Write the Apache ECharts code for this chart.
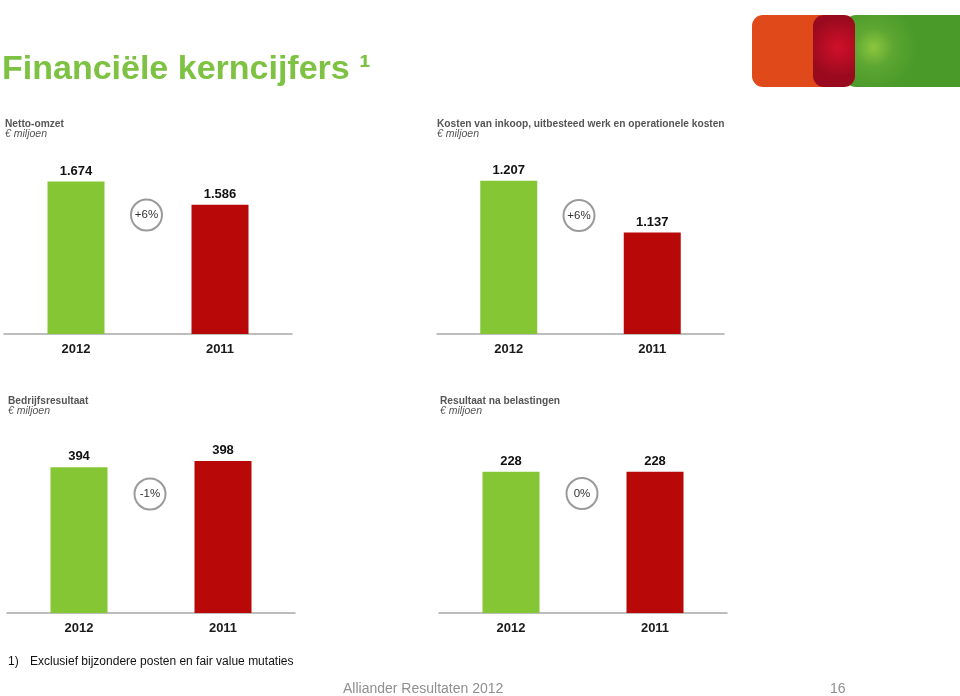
<!DOCTYPE html>
<html>
<head>
<meta charset="utf-8">
<script src="https://cdn.jsdelivr.net/npm/echarts@6/dist/echarts.min.js"></script>
<style>
html,body{margin:0;padding:0;background:#fff;}
#chart{width:960px;height:696px;}
</style>
</head>
<body>
<div id="chart"></div>
<script>
// ---- data ----
const categories = ['2012', '2011'];
const nettoOmzet = [1674, 1586];
const kosten = [1207, 1137];
const bedrijfsresultaat = [394, 398];
const resultaatNaBelastingen = [228, 228];
const changeLabels = ['+6%', '+6%', '-1%', '0%'];
const panelTitles = ['Netto-omzet', 'Kosten van inkoop, uitbesteed werk en operationele kosten', 'Bedrijfsresultaat', 'Resultaat na belastingen'];
const unitLabel = '€ miljoen';
const mainTitle = 'Financiële kerncijfers ¹';
const footnoteNo = '1)';
const footnoteText = 'Exclusief bijzondere posten en fair value mutaties';
const footerText = 'Alliander Resultaten 2012';
const pageNo = '16';

const seriesData = [nettoOmzet, kosten, bedrijfsresultaat, resultaatNaBelastingen];
const axisMin = [1100, 1000, 300, 150];
const axisMax = [1800, 1250, 420, 250];

const GREEN = '#84C634';
const RED = '#B80808';
const FONT = "'Liberation Sans', Arial, sans-serif";

function fmt(v) {
  return String(v).replace(/\B(?=(\d{3})+(?!\d))/g, '.');
}

const grids = [
  { left: 4, width: 288, top: 148, height: 186 },
  { left: 437, width: 287, top: 149, height: 185 },
  { left: 7, width: 288, top: 427, height: 186 },
  { left: 439, width: 288, top: 432, height: 181 }
];

const xAxes = grids.map((g, i) => ({
  type: 'category', gridIndex: i, data: categories,
  axisLine: { show: true, lineStyle: { color: '#a8a8a8', width: 1.5 } },
  axisTick: { show: false },
  axisLabel: { fontFamily: FONT, fontWeight: 'bold', fontSize: 13, color: '#1a1a1a', margin: 9 }
}));
const yAxes = grids.map((g, i) => ({
  type: 'value', gridIndex: i, min: axisMin[i], max: axisMax[i], show: false,
  splitLine: { show: false }
}));
const series = seriesData.map((d, i) => ({
  type: 'bar', xAxisIndex: i, yAxisIndex: i, barWidth: 57,
  data: d.map((v, j) => ({ value: v, itemStyle: { color: j === 0 ? GREEN : RED } })),
  label: {
    show: true, position: 'top', distance: 4,
    fontFamily: FONT, fontWeight: 'bold', fontSize: 13, color: '#111',
    formatter: p => fmt(p.value)
  },
  silent: true
}));

const headerPos = [[5, 124], [437, 124], [8, 401], [440, 401]];
const circlePos = [[146.5, 215], [579, 215.5], [150, 494], [582, 493.5]];

const graphic = [];
// logo
graphic.push({ type: 'rect', shape: { x: 752, y: 15, width: 100, height: 72, r: 11 }, style: { fill: '#E0491A' } });
graphic.push({ type: 'rect', shape: { x: 845, y: 15, width: 130, height: 72, r: 11 },
  style: { fill: { type: 'radial', x: 0.22, y: 0.45, r: 0.6, colorStops: [
    { offset: 0, color: '#8CC63F' }, { offset: 0.45, color: '#5DA632' }, { offset: 1, color: '#4A9A2A' }] } } });
graphic.push({ type: 'rect', shape: { x: 813, y: 15, width: 42, height: 72, r: 11 },
  style: { fill: { type: 'radial', x: 0.6, y: 0.45, r: 0.7, colorStops: [
    { offset: 0, color: '#D0102A' }, { offset: 1, color: '#9A0A1E' }] } } });
// title
graphic.push({ type: 'text', x: 2, y: 70, style: { text: mainTitle, fill: '#7DC242', font: "bold 34px " + FONT, verticalAlign: 'middle' } });
// headers
headerPos.forEach((p, i) => {
  graphic.push({ type: 'text', x: p[0], y: p[1], style: { text: panelTitles[i], fill: '#555', font: "bold 10.2px " + FONT, verticalAlign: 'middle' } });
  graphic.push({ type: 'text', x: p[0], y: p[1] + 10.5, style: { text: unitLabel, fill: '#555', font: "italic 10.5px " + FONT, verticalAlign: 'middle' } });
});
// change circles
circlePos.forEach((p, i) => {
  graphic.push({ type: 'circle', shape: { cx: p[0], cy: p[1], r: 15.5 }, style: { fill: '#fff', stroke: '#9a9a9a', lineWidth: 2 } });
  graphic.push({ type: 'text', x: p[0], y: p[1], style: { text: changeLabels[i], fill: '#333', font: "11.5px " + FONT, align: 'center', verticalAlign: 'middle' } });
});
// footer
graphic.push({ type: 'text', x: 8, y: 662, style: { text: footnoteNo, fill: '#111', font: "12px " + FONT, verticalAlign: 'middle' } });
graphic.push({ type: 'text', x: 30, y: 662, style: { text: footnoteText, fill: '#111', font: "12px " + FONT, verticalAlign: 'middle' } });
graphic.push({ type: 'text', x: 343, y: 689, style: { text: footerText, fill: '#8f8f8f', font: "14px " + FONT, verticalAlign: 'middle' } });
graphic.push({ type: 'text', x: 830, y: 689, style: { text: pageNo, fill: '#8f8f8f', font: "14px " + FONT, verticalAlign: 'middle' } });

const chart = echarts.init(document.getElementById('chart'), null, { renderer: 'canvas' });
chart.setOption({
  animation: false,
  backgroundColor: '#fff',
  grid: grids,
  xAxis: xAxes,
  yAxis: yAxes,
  series: series,
  graphic: graphic
});
</script>
</body>
</html>
